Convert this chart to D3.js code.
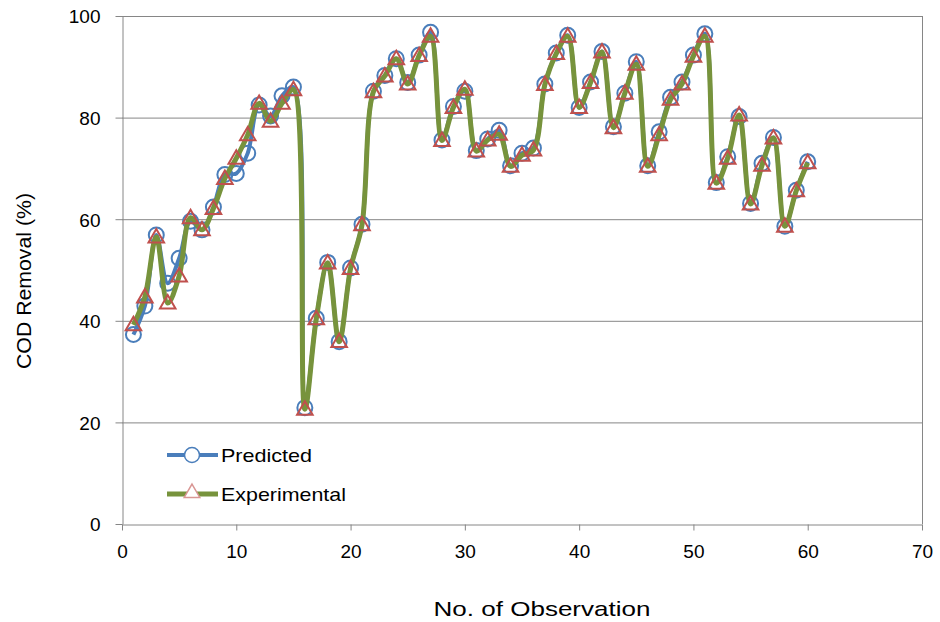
<!DOCTYPE html>
<html><head><meta charset="utf-8">
<script src="https://cdn.jsdelivr.net/npm/d3@7"></script>
<style>
body{margin:0;background:#fff;}
svg text{font-family:"Liberation Sans",Arial,sans-serif;fill:#000;}
</style></head>
<body><svg id="c" width="940" height="622"></svg>
<script>
const observations = d3.range(1, 61);
const predicted = [37.3,42.9,56.9,47.4,52.3,59.6,57.9,62.4,68.8,69.0,73.0,82.5,80.3,84.3,86.0,22.9,40.5,51.5,35.9,50.4,59.0,85.2,88.3,91.6,86.9,92.3,96.8,75.6,82.2,85.2,73.5,75.8,77.5,70.5,73.0,74.0,86.6,92.7,96.2,82.0,87.0,93.0,78.2,84.8,91.0,70.5,77.2,84.0,87.0,92.3,96.5,67.2,72.3,80.2,63.1,71.0,76.1,58.6,65.7,71.3];
const experimental = [39.2,44.7,56.5,43.5,48.8,60.3,57.9,62.1,68.0,72.0,76.6,82.8,79.3,82.8,85.5,22.6,40.4,51.4,35.9,50.3,58.9,85.1,88.2,91.6,86.6,92.2,96.0,75.5,82.0,85.6,73.4,75.6,76.7,70.4,72.6,73.6,86.5,92.6,96.0,82.0,86.9,92.9,78.0,84.8,90.5,70.4,76.6,83.6,86.6,92.1,96.0,67.1,72.0,80.5,63.0,70.6,76.0,58.6,65.6,71.1];
const xTicks = [0,10,20,30,40,50,60,70];
const yTicks = [0,20,40,60,80,100];
const seriesNames = ["Predicted","Experimental"];

const svg = d3.select("#c");
const L=122,R=922,T=16,B=524;
const x = d3.scaleLinear().domain([0,70]).range([L,R]);
const y = d3.scaleLinear().domain([0,100]).range([B,T]);
const grid="#868686";

svg.append("g").selectAll("line").data(yTicks.filter(d=>d>0)).join("line")
  .attr("x1",L).attr("x2",R).attr("y1",d=>y(d)+0.5).attr("y2",d=>y(d)+0.5)
  .attr("stroke",grid).attr("stroke-width",1);
svg.append("line").attr("x1",R+0.5).attr("x2",R+0.5).attr("y1",T).attr("y2",B).attr("stroke",grid);

const xAxis = svg.append("g").attr("transform",`translate(0,${B+0.5})`)
  .call(d3.axisBottom(x).tickValues(xTicks).tickSize(6).tickPadding(14).tickSizeOuter(0));
const yAxis = svg.append("g").attr("transform",`translate(${L+0.5},0)`)
  .call(d3.axisLeft(y).tickValues(yTicks).tickSize(7).tickPadding(15).tickSizeOuter(0));
[xAxis,yAxis].forEach(a=>{
  a.select(".domain").attr("stroke",grid);
  a.selectAll(".tick line").attr("stroke",grid);
  a.selectAll("text").attr("font-size",19).attr("fill","#000");
});
yAxis.selectAll("text").attr("dy","0.36em");

svg.append("text").attr("x",542).attr("y",616).attr("text-anchor","middle").attr("font-size",21)
  .attr("textLength",217).attr("lengthAdjust","spacingAndGlyphs").text("No. of Observation");
svg.append("text").attr("transform","translate(31,281) rotate(-90)").attr("text-anchor","middle").attr("font-size",21)
  .attr("textLength",176).attr("lengthAdjust","spacingAndGlyphs").text("COD Removal (%)");

const line = d3.line().x((d,i)=>x(observations[i])).y(d=>y(d)).curve(d3.curveCatmullRom.alpha(0.5));
const blue="#4A7EBB", green="#77933C", red="#C0504D";
const tri = d3.symbol().type(d3.symbolTriangle).size(105);

svg.append("path").datum(predicted).attr("d",line).attr("fill","none").attr("stroke",blue).attr("stroke-width",4);
svg.append("g").selectAll("circle").data(predicted).join("circle")
  .attr("cx",(d,i)=>x(observations[i])).attr("cy",d=>y(d)).attr("r",7.5)
  .attr("fill","none").attr("stroke",blue).attr("stroke-width",2);
svg.append("path").datum(experimental).attr("d",line).attr("fill","none").attr("stroke",green).attr("stroke-width",5);
svg.append("g").selectAll("path").data(experimental).join("path")
  .attr("d",tri).attr("transform",(d,i)=>`translate(${x(observations[i])},${y(d)+1})`)
  .attr("fill","none").attr("stroke",red).attr("stroke-width",2);

const lg = svg.append("g");
const legY=[455,494];
const legW=[91,125];
lg.append("line").attr("x1",167).attr("x2",218).attr("y1",legY[0]).attr("y2",legY[0]).attr("stroke",blue).attr("stroke-width",4);
lg.append("circle").attr("cx",192).attr("cy",legY[0]).attr("r",7.5).attr("fill","#fff").attr("stroke",blue).attr("stroke-width",1.5);
lg.append("line").attr("x1",167).attr("x2",218).attr("y1",legY[1]).attr("y2",legY[1]).attr("stroke",green).attr("stroke-width",5);
lg.append("path").attr("d",tri).attr("transform",`translate(192,${legY[1]-1})`).attr("fill","#fff").attr("stroke","#D99694").attr("stroke-width",1.5);
lg.selectAll("text").data(seriesNames).join("text")
  .attr("x",221).attr("y",(d,i)=>legY[i]+7).attr("font-size",19)
  .attr("textLength",(d,i)=>legW[i]).attr("lengthAdjust","spacingAndGlyphs").text(d=>d);
</script></body></html>
